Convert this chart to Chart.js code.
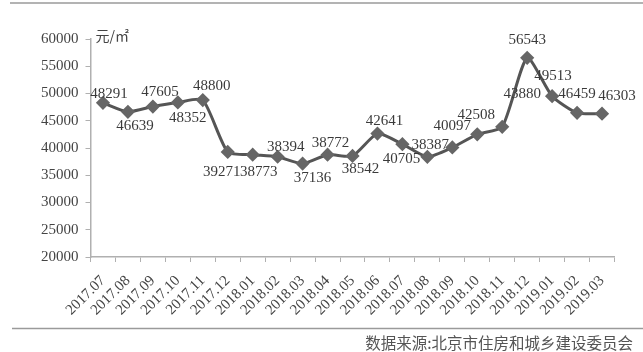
<!DOCTYPE html>
<html>
<head>
<meta charset="utf-8">
<script src="https://cdn.jsdelivr.net/npm/chart.js@4"></script>
<style>
  html, body { margin: 0; padding: 0; background: #fff; }
  #wrap { width: 643px; height: 352px; }
</style>
</head>
<body>
<div id="wrap"><canvas id="priceChart" width="643" height="352"></canvas></div>
<script>
const months = ['2017.07', '2017.08', '2017.09', '2017.10', '2017.11', '2017.12',
  '2018.01', '2018.02', '2018.03', '2018.04', '2018.05', '2018.06', '2018.07',
  '2018.08', '2018.09', '2018.10', '2018.11', '2018.12', '2019.01', '2019.02', '2019.03'];
const prices = [48291, 46639, 47605, 48352, 48800, 39271, 38773, 38394, 37136, 38772,
  38542, 42641, 40705, 38387, 40097, 42508, 43880, 56543, 49513, 46459, 46303];
const yTicks = [20000, 25000, 30000, 35000, 40000, 45000, 50000, 55000, 60000];
const unitText = '元/㎡';
const sourceText = '数据来源:北京市住房和城乡建设委员会';

// where each value label sits relative to its point
const labelOffsets = [[6, -9], [7, 14], [7, -14], [10, 16], [9, -14], [-6, 20], [6, 17],
  [8, -10], [10, 14], [3, -12], [8, 13], [7, -13], [-1, 15], [3, -12], [0, -21],
  [-1, -19], [20, -33], [0, -18], [1, -20], [0, -19], [15, -18]];

const serif = '"Liberation Serif", "DejaVu Serif", serif';

const extras = {
  id: 'extras',
  afterDatasetsDraw(chart) {
    const ctx = chart.ctx;
    const meta = chart.getDatasetMeta(0);
    ctx.save();
    ctx.font = '15px ' + serif;
    ctx.fillStyle = '#3a3a3a';
    ctx.textAlign = 'center';
    ctx.textBaseline = 'middle';
    meta.data.forEach((pt, i) => {
      const o = labelOffsets[i];
      ctx.fillText(String(prices[i]), pt.x + o[0], pt.y + o[1]);
    });
    ctx.restore();
  },
  afterDraw(chart) {
    const ctx = chart.ctx;
    const area = chart.chartArea;
    ctx.save();
    ctx.strokeStyle = '#9a9a9a';
    ctx.lineWidth = 1.5;
    ctx.beginPath();
    ctx.moveTo(10, 3); ctx.lineTo(643, 3);
    ctx.moveTo(12, 328.5); ctx.lineTo(643, 328.5);
    ctx.stroke();

    ctx.fillStyle = '#444';
    ctx.font = '14px "Noto Sans CJK SC", sans-serif';
    ctx.textAlign = 'left';
    ctx.textBaseline = 'middle';
    ctx.fillText(unitText, area.left + 5, area.top - 3);

    ctx.fillStyle = '#555';
    ctx.font = '15.5px "Noto Sans CJK SC", sans-serif';
    ctx.textAlign = 'right';
    ctx.fillText(sourceText, 633, 343);
    ctx.restore();
  }
};

new Chart(document.getElementById('priceChart'), {
  type: 'line',
  data: {
    labels: months,
    datasets: [{
      data: prices,
      borderColor: '#555',
      borderWidth: 3,
      tension: 0.2,
      pointStyle: 'rectRot',
      pointRadius: 5,
      pointBackgroundColor: '#666',
      pointBorderColor: '#666',
      fill: false
    }]
  },
  options: {
    responsive: false,
    animation: false,
    layout: { padding: { top: 39, right: 28.5, bottom: 0, left: 0 } },
    plugins: {
      legend: { display: false },
      tooltip: { enabled: false }
    },
    scales: {
      x: {
        offset: true,
        grid: { drawOnChartArea: false, drawTicks: true, tickLength: 5, color: '#b0b0b0', offset: true },
        border: { color: '#b0b0b0', width: 1.5 },
        ticks: {
          autoSkip: false,
          minRotation: 45,
          maxRotation: 45,
          padding: 10,
          color: '#444',
          font: { family: serif, size: 15 }
        },
        afterFit(scale) { scale.height = 95; }
      },
      y: {
        min: 20000,
        max: 60000,
        afterBuildTicks(scale) { scale.ticks = yTicks.map(v => ({ value: v })); },
        grid: { drawOnChartArea: false, drawTicks: true, tickLength: 5, color: '#b0b0b0' },
        border: { color: '#b0b0b0', width: 1.5 },
        ticks: {
          padding: 7,
          color: '#444',
          font: { family: serif, size: 15 },
          callback: v => String(v)
        },
        afterFit(scale) { scale.width = 90.5; }
      }
    }
  },
  plugins: [extras]
});
</script>
</body>
</html>
